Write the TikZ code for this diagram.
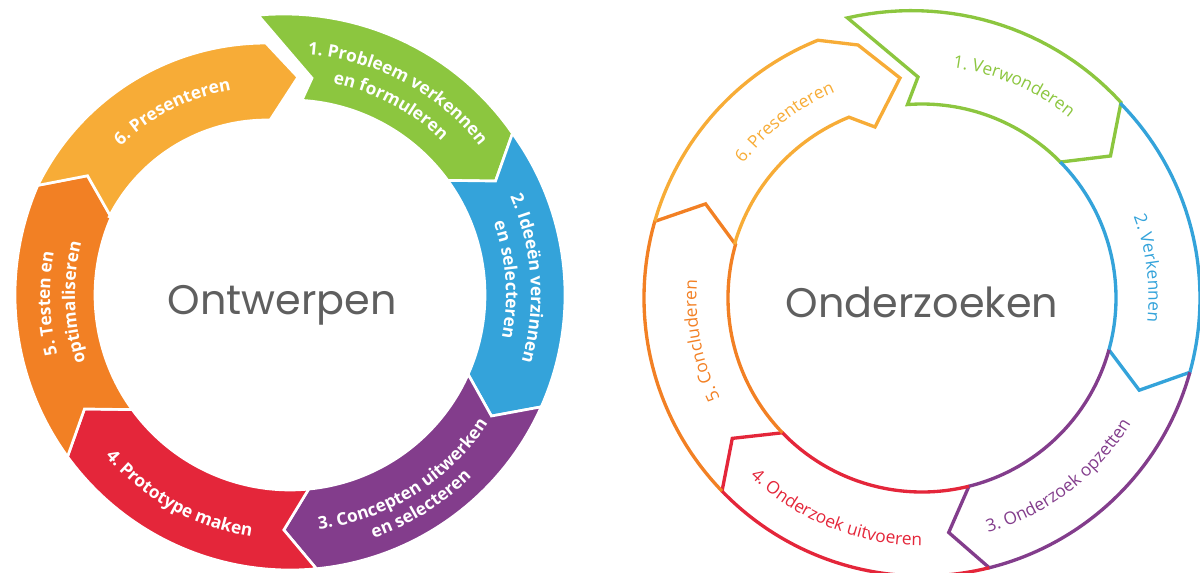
\documentclass[tikz,border=0pt]{standalone}
\usepackage{fontspec}
\setmainfont{Open Sans}
\newfontfamily\titlefont{Poppins}
\usetikzlibrary{decorations.text}

\definecolor{cyclegreen}{RGB}{140,198,63}
\definecolor{cycleblue}{RGB}{52,163,218}
\definecolor{cyclepurple}{RGB}{131,61,140}
\definecolor{cyclered}{RGB}{228,38,58}
\definecolor{cycleorange}{RGB}{242,128,36}
\definecolor{cycleyellow}{RGB}{247,172,55}
\definecolor{titlegray}{RGB}{95,95,95}

\newcommand\boldlab{\bfseries\fontsize{13}{13}\selectfont\color{white}}
\newcommand\thinlab{\fontsize{13}{13}\selectfont}

% ring piece: tail angle, head angle, outer radius, inner radius
\newcommand\ringpiece[4]{(#1:#3) arc[start angle=#1, end angle=#2, radius=#3]
  -- ({#2-7}:{(#3+#4)/2}) -- (#2:#4) arc[start angle=#2, end angle=#1, radius=#4]
  -- ({#1-7}:{(#3+#4)/2}) -- cycle}
% open ring piece, tail left out
\newcommand\ringline[4]{(#1:#3) arc[start angle=#1, end angle=#2, radius=#3]
  -- ({#2-7.5}:{(#3+#4)/2}) -- (#2:#4) arc[start angle=#2, end angle=#1, radius=#4]}

% text on an arc: mid angle, radius, format, text
\newcommand\cwtext[4]{\path[decorate, decoration={text along path, text align=center, text={|#3|#4}}]
  ({#1+45}:#2) arc[start angle={#1+45}, end angle={#1-45}, radius=#2];}
\newcommand\ccwtext[4]{\path[decorate, decoration={text along path, text align=center, text={|#3|#4}}]
  ({#1-45}:#2) arc[start angle={#1-45}, end angle={#1+45}, radius=#2];}

\begin{document}
\begin{tikzpicture}[x=0.75pt, y=0.75pt,
  gap/.style={draw=white, line width=2pt},
  outline/.style={line width=2.5pt},
  title/.style={font=\titlefont\fontsize{31}{31}\selectfont, text=titlegray, anchor=base}]
\useasboundingbox (0,0) rectangle (1200,572);

% Ontwerpen
\begin{scope}[shift={(290,277)}]
\coordinate (o5) at (156.5:275);
\coordinate (t5) at (149.5:235);
\coordinate (i5) at (156.5:195);

\fill[cyclegreen, gap] plot[domain=96.5:36, samples=30, variable=\t] (\t:{275+0.11*(\t-36)})
  -- (29:235) -- (36:195) arc[start angle=36, end angle=86.5, radius=195] -- (84.2:218) -- cycle;
\fill[cycleblue, gap] \ringpiece{36}{-24}{275}{195};
\fill[cyclepurple, gap] \ringpiece{-24}{-84.5}{275}{195};
\fill[cyclered, gap] \ringpiece{-84.5}{-144}{275}{195};
\fill[cycleorange, gap] \ringpiece{-144}{-203.5}{275}{195};

\cwtext{62}{241}{\boldlab}{1. Probleem verkennen}
\cwtext{62}{216}{\boldlab}{en formuleren}
\cwtext{4}{241}{\boldlab}{2. Ideeën verzinnen}
\cwtext{4}{216}{\boldlab}{en selecteren}
\ccwtext{-58}{236}{\boldlab}{3. Concepten uitwerken}
\ccwtext{-58}{257}{\boldlab}{en selecteren}
\ccwtext{-119}{245}{\boldlab}{4. Prototype maken}
\cwtext{182}{240}{\boldlab}{5. Testen en}
\cwtext{182}{215}{\boldlab}{optimaliseren}

\begin{scope}[shift={(-23,-2)}]
\fill[cycleyellow, gap] (o5) arc[start angle=153.9, end angle=90, radius=254] -- (82:222)
  -- (89:177) arc[start angle=89, end angle=153, radius=177] -- (i5) -- (t5) -- cycle;
\cwtext{117}{210}{\boldlab}{6. Presenteren}
\end{scope}

\node[title] (ontwerpen) at (-8,-20) {Ontwerpen};
\end{scope}

% Onderzoeken
\begin{scope}[shift={(922,274)}]
\draw[cyclegreen, outline] plot[domain=104.9:44.5, samples=30, variable=\t] (\t:{279+0.18*(\t-44.5)})
  -- (37:236) -- (44.5:194) arc[start angle=44.5, end angle=94.3, radius=194] -- (-4,221) -- cycle;
\draw[cycleblue, outline] \ringline{44.5}{-15.5}{278}{194};
\draw[cyclepurple, outline] \ringline{-15.5}{-76}{278}{194};
\draw[cyclered, outline] \ringline{-76}{-136}{278}{194};
\draw[cycleorange, outline] \ringline{-136}{-196}{278}{194};
\draw[cycleyellow, outline] (164:278) arc[start angle=164, end angle=112, radius=278]
  -- (-64,253) -- (-22,220) -- (-47,171) -- (112:195) arc[start angle=112, end angle=164, radius=195];

\cwtext{66.6}{232.5}{\thinlab\color{cyclegreen}}{1. Verwonderen}
\cwtext{7.5}{226.5}{\thinlab\color{cycleblue}}{2. Verkennen}
\ccwtext{-52.6}{243.5}{\thinlab\color{cyclepurple}}{3. Onderzoek opzetten}
\ccwtext{-112}{247.5}{\thinlab\color{cyclered}}{4. Onderzoek uitvoeren}
\cwtext{191}{225.5}{\thinlab\color{cycleorange}}{5. Concluderen}
\cwtext{128}{223.5}{\thinlab\color{cycleyellow}}{6. Presenteren}

\node[title] (onderzoeken) at (0,-20) {Onderzoeken};
\end{scope}
\end{tikzpicture}
\end{document}
